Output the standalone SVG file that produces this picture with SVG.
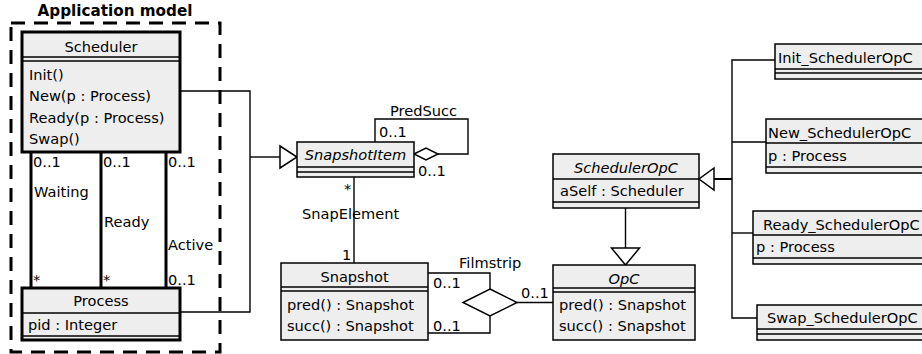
<svg xmlns="http://www.w3.org/2000/svg" width="922" height="354" viewBox="0 0 922 354">
  <style>
    text { font-family: "DejaVu Sans", "Liberation Sans", sans-serif; font-size: 14.6px; fill: #000; }
    .title { font-weight: bold; font-size: 15.2px; }
    .it { font-style: italic; }
    .mid { text-anchor: middle; }
    .box { fill: #eeeeee; stroke: #000; stroke-width: 1.5; }
    .thick { fill: #eeeeee; stroke: #000; stroke-width: 3; }
    .sep { stroke: #000; stroke-width: 1.5; fill: none; }
    .sep2 { stroke: #000; stroke-width: 2; fill: none; }
    .ln { stroke: #000; stroke-width: 1.4; fill: none; }
    .assoc { stroke: #000; stroke-width: 3; fill: none; }
    .head { fill: #fff; stroke: #000; stroke-width: 1.5; }
    .frame { fill: none; stroke: #000; stroke-width: 3; stroke-dasharray: 14 9; }
  </style>

  <!-- package frame -->
  <g id="application-model">
    <rect class="frame" x="11" y="23" width="209" height="329"/>
    <text class="title mid" x="115" y="16">Application model</text>
  </g>

  <!-- connectors -->
  <g id="connectors">
    <!-- Scheduler/Process associations -->
    <line class="assoc" x1="31" y1="152" x2="31" y2="288"/>
    <line class="assoc" x1="101" y1="152" x2="101" y2="288"/>
    <line class="assoc" x1="166" y1="152" x2="166" y2="288"/>
    <text x="33" y="167">0..1</text>
    <text x="103" y="167">0..1</text>
    <text x="168" y="167">0..1</text>
    <text x="34" y="197">Waiting</text>
    <text x="104" y="227">Ready</text>
    <text x="168" y="250">Active</text>
    <text x="33" y="285">*</text>
    <text x="103" y="285">*</text>
    <text x="168" y="285">0..1</text>

    <!-- generalization to SnapshotItem -->
    <polyline class="ln" points="180,91 250,91 250,312 180,312"/>
    <line class="ln" x1="250" y1="157" x2="280" y2="157"/>
    <polygon class="head" points="280,146 297,157 280,168"/>

    <!-- PredSucc self association -->
    <polyline class="ln" points="375,142 375,119 468,119 468,154 438,154"/>
    <polygon class="head" points="414,154 426,148 438,154 426,160"/>
    <text x="390" y="116">PredSucc</text>
    <text x="379" y="137">0..1</text>
    <text x="418" y="176">0..1</text>

    <!-- SnapElement -->
    <line class="ln" x1="354" y1="177" x2="354" y2="263"/>
    <text x="344" y="194">*</text>
    <text x="302" y="219">SnapElement</text>
    <text x="342" y="260">1</text>

    <!-- Filmstrip ternary -->
    <polyline class="ln" points="428,273 490,273 490,289"/>
    <polyline class="ln" points="490,316 490,333 428,333"/>
    <line class="ln" x1="517" y1="302.5" x2="553" y2="302.5"/>
    <polygon class="head" points="490,289 517,302.5 490,316 463,302.5"/>
    <text x="459" y="268">Filmstrip</text>
    <text x="433" y="288">0..1</text>
    <text x="433" y="331">0..1</text>
    <text x="521" y="298">0..1</text>

    <!-- SchedulerOpC specializes OpC -->
    <line class="ln" x1="625.5" y1="208" x2="625.5" y2="248"/>
    <polygon class="head" points="611.5,248 639.5,248 625.5,265"/>

    <!-- operation classes specialize SchedulerOpC -->
    <polyline class="ln" points="775,60 732,60 732,318 757,318"/>
    <line class="ln" x1="732" y1="142" x2="766" y2="142"/>
    <line class="ln" x1="732" y1="233" x2="753" y2="233"/>
    <line class="sep2" x1="714" y1="179" x2="732" y2="179"/>
    <polygon class="head" points="714,168 699,179 714,190"/>
  </g>

  <!-- Scheduler -->
  <g id="scheduler">
    <rect class="thick" x="22" y="32" width="158" height="120"/>
    <line class="sep" x1="22" y1="57" x2="180" y2="57"/>
    <line class="sep" x1="22" y1="61" x2="180" y2="61"/>
    <text class="mid" x="101" y="52">Scheduler</text>
    <text x="29" y="80">Init()</text>
    <text x="29" y="101">New(p : Process)</text>
    <text x="29" y="123">Ready(p : Process)</text>
    <text x="29" y="144">Swap()</text>
  </g>

  <!-- Process -->
  <g id="process">
    <rect class="thick" x="22" y="288" width="158" height="52"/>
    <line class="sep" x1="22" y1="313" x2="180" y2="313"/>
    <line class="sep" x1="22" y1="336" x2="180" y2="336"/>
    <text class="mid" x="101" y="306">Process</text>
    <text x="28" y="330">pid : Integer</text>
  </g>

  <!-- SnapshotItem -->
  <g id="snapshot-item">
    <rect class="box" x="297" y="142" width="117" height="35"/>
    <line class="sep" x1="297" y1="167" x2="414" y2="167"/>
    <line class="sep" x1="297" y1="172" x2="414" y2="172"/>
    <text class="it mid" x="355.5" y="160">SnapshotItem</text>
  </g>

  <!-- Snapshot -->
  <g id="snapshot">
    <rect class="box" x="281" y="263" width="147" height="77"/>
    <line class="sep" x1="281" y1="287" x2="428" y2="287"/>
    <line class="sep" x1="281" y1="291" x2="428" y2="291"/>
    <text class="mid" x="354.5" y="282">Snapshot</text>
    <text x="287" y="310">pred() : Snapshot</text>
    <text x="287" y="331">succ() : Snapshot</text>
  </g>

  <!-- OpC -->
  <g id="opc">
    <rect class="box" x="553" y="265" width="142" height="75"/>
    <line class="sep" x1="553" y1="288" x2="695" y2="288"/>
    <line class="sep" x1="553" y1="292" x2="695" y2="292"/>
    <text class="it mid" x="624" y="284">OpC</text>
    <text x="559" y="310">pred() : Snapshot</text>
    <text x="559" y="331">succ() : Snapshot</text>
  </g>

  <!-- SchedulerOpC -->
  <g id="scheduler-opc">
    <rect class="box" x="553" y="154" width="146" height="54"/>
    <line class="sep" x1="553" y1="179" x2="699" y2="179"/>
    <line class="sep" x1="553" y1="202" x2="699" y2="202"/>
    <text class="it mid" x="626" y="173">SchedulerOpC</text>
    <text x="560" y="196">aSelf : Scheduler</text>
  </g>

  <!-- Init_SchedulerOpC -->
  <g id="init-scheduler-opc">
    <rect class="box" x="775" y="44" width="160" height="35"/>
    <line class="sep" x1="775" y1="69" x2="935" y2="69"/>
    <line class="sep" x1="775" y1="73" x2="935" y2="73"/>
    <text x="778" y="63">Init_SchedulerOpC</text>
  </g>

  <!-- New_SchedulerOpC -->
  <g id="new-scheduler-opc">
    <rect class="box" x="766" y="119" width="170" height="54"/>
    <line class="sep" x1="766" y1="143" x2="936" y2="143"/>
    <line class="sep" x1="766" y1="167" x2="936" y2="167"/>
    <text x="768" y="138">New_SchedulerOpC</text>
    <text x="768" y="161">p : Process</text>
  </g>

  <!-- Ready_SchedulerOpC -->
  <g id="ready-scheduler-opc">
    <rect class="box" x="753" y="211" width="183" height="53"/>
    <line class="sep" x1="753" y1="235" x2="936" y2="235"/>
    <line class="sep" x1="753" y1="258" x2="936" y2="258"/>
    <text x="763" y="230">Ready_SchedulerOpC</text>
    <text x="756" y="252">p : Process</text>
  </g>

  <!-- Swap_SchedulerOpC -->
  <g id="swap-scheduler-opc">
    <rect class="box" x="757" y="305" width="180" height="35"/>
    <line class="sep" x1="757" y1="329" x2="937" y2="329"/>
    <line class="sep" x1="757" y1="334" x2="937" y2="334"/>
    <text x="767" y="323">Swap_SchedulerOpC</text>
  </g>
</svg>
